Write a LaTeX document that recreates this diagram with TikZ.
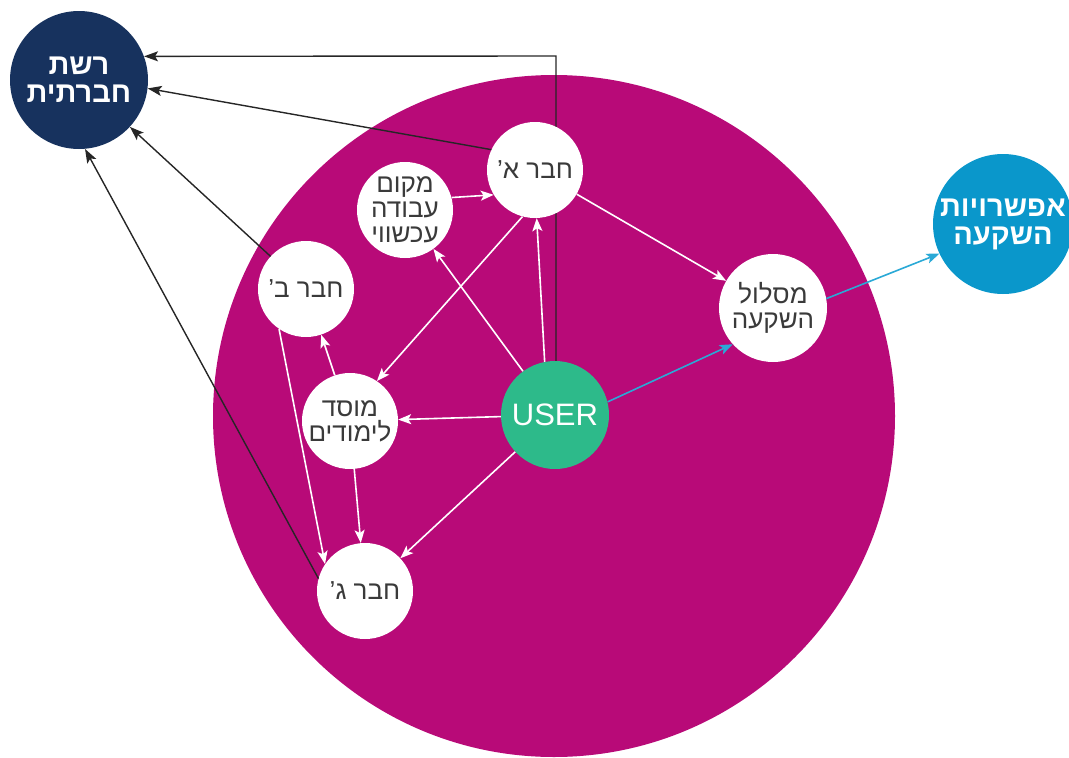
\documentclass[tikz,border=0pt]{standalone}
\usepackage{fontspec}
\setmainfont{Liberation Sans}
\newfontfamily\hebfont[Script=Hebrew]{Liberation Sans}
\TeXXeTstate=1
\usetikzlibrary{arrows.meta}
\pgfdeclarelayer{back}\pgfdeclarelayer{mid}\pgfsetlayers{back,mid,main}
\definecolor{magen}{HTML}{B80A78}
\definecolor{navyc}{HTML}{17325E}
\definecolor{skyc}{HTML}{0A97CB}
\definecolor{userc}{HTML}{2DBA8A}
\definecolor{bluearr}{HTML}{2AA9D6}
\definecolor{txtc}{HTML}{3A3A3A}
\newcommand\heb[1]{\beginR#1\endR}
\begin{document}
\begin{tikzpicture}[x=1pt,y=-1pt,
  bub/.style={circle,inner sep=0pt,align=center},
  wbub/.style={bub,fill=white,text=txtc,minimum size=96pt,font=\hebfont\fontsize{26}{25}\selectfont},
  cbub/.style={bub,text=white,font=\hebfont\bfseries\fontsize{29}{28}\selectfont},
  warr/.style={draw=white,line width=1.6pt,-{Stealth[length=13pt,width=10pt,inset=3pt]}},
  barr/.style={draw=black!85,line width=1.4pt,-{Stealth[length=14pt,width=10pt,inset=3pt]}},
  carr/.style={draw=bluearr,line width=1.6pt,-{Stealth[length=13pt,width=10pt,inset=3pt]}}]
\useasboundingbox (0,0) rectangle (1069,758);
\begin{pgfonlayer}{back}
\fill[magen] (554,416) circle[radius=341pt];
\end{pgfonlayer}
% nodes
\node[cbub,fill=navyc,minimum size=138pt] (rashet) at (79,80) {\heb{רשת}\\\heb{חברתית}};
\node[cbub,fill=skyc,minimum size=140pt] (opts) at (1003,224) {\heb{אפשרויות}\\\heb{השקעה}};
\node[wbub,minimum size=108pt] (maslul) at (773,308) {\heb{מסלול}\\\heb{השקעה}};
\node[wbub] (hA) at (535,170) {\heb{חבר א’}};
\node[wbub] (work) at (405,210) {\heb{מקום}\\\heb{עבודה}\\\heb{עכשווי}};
\node[wbub] (hB) at (306,289) {\heb{חבר ב’}};
\node[wbub] (mosad) at (350,421) {\heb{מוסד}\\\heb{לימודים}};
\node[bub,fill=userc,text=white,minimum size=108pt,font=\fontsize{31}{32}\selectfont] (user) at (555,415) {USER};
\node[wbub] (hC) at (365,591) {\heb{חבר ג’}};
\coordinate (corner) at (556,56);
% black connector behind hA
\begin{pgfonlayer}{mid}
\draw[barr] (user.north -| corner) -- (corner) -- (rashet.20);
\end{pgfonlayer}
% black connectors
\draw[barr] (hA.155) -- (rashet.-7);
\draw[barr] (hB) -- (rashet);
\draw[barr] (hC.165) -- (rashet.-85);
% white connectors
\draw[warr] (hA) -- (maslul);
\draw[warr] (work.15) -- (hA.211);
\draw[warr] (user) -- (work);
\draw[warr] (user.101) -- (hA.-88);
\draw[warr] (hA.255) -- (mosad.56);
\draw[warr] (user) -- (mosad);
\draw[warr] (mosad) -- (hB);
\draw[warr] (hB.236) -- (hC.146);
\draw[warr] (mosad) -- (hC);
\draw[warr] (user) -- (hC);
% blue connectors
\draw[carr] (user.14) -- (maslul.222);
\draw[carr] (maslul.10) -- (opts.205);
\end{tikzpicture}
\end{document}
